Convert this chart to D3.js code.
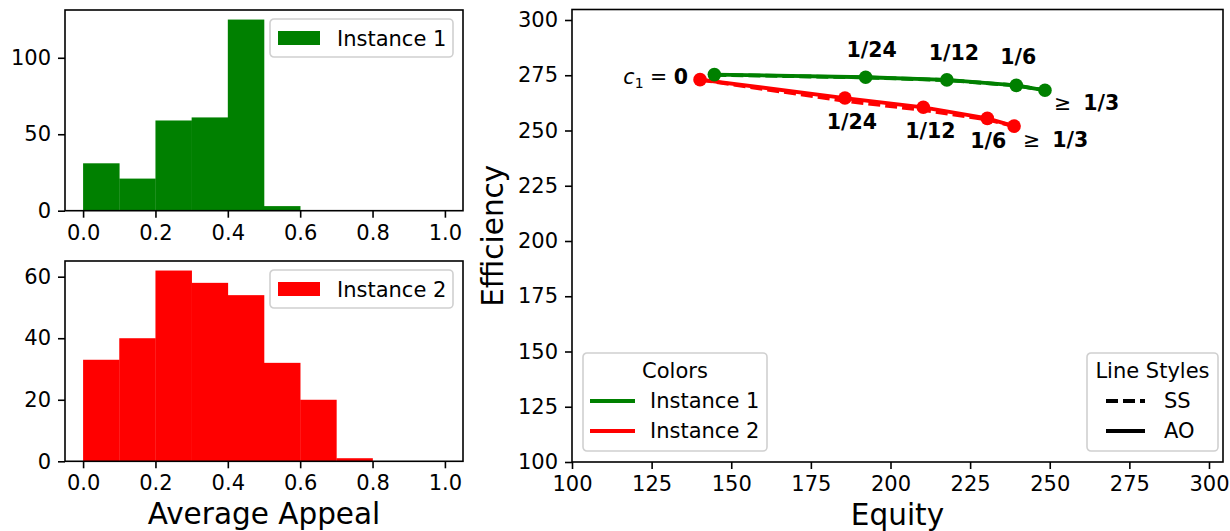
<!DOCTYPE html>
<html>
<head>
<meta charset="utf-8">
<script src="https://cdn.jsdelivr.net/npm/d3@7"></script>
<style>
  body { margin: 0; background: #fff; }
  svg text { font-family: "DejaVu Sans", sans-serif; }
  .tick text { font-size: 21px; fill: #000; }
  .tick line { stroke: #000; stroke-width: 1.6; }
</style>
</head>
<body>
<div id="chart"></div>
<script>
// histogram bins and counts
var binEdges = [0, 0.1, 0.2, 0.3, 0.4, 0.5, 0.6, 0.7, 0.8, 0.9, 1.0];
var instance1Counts = [31, 21, 59, 61, 125, 3, 0, 0, 0, 0];
var instance2Counts = [33, 40, 62, 58, 54, 32, 20, 1, 0, 0];
var histTicksX = [0, 0.2, 0.4, 0.6, 0.8, 1.0];

// equity / efficiency trade-off for each c1 value
var c1Labels = ["0", "1/24", "1/12", "1/6", "1/3"];
var equity1 = [144.7, 192.2, 217.7, 239.5, 248.5];
var effic1AO = [275.3, 274.1, 272.9, 270.4, 268.2];
var effic1SS = [275.2, 274.0, 272.8, 270.4, 268.2];
var equity2 = [140.2, 185.7, 210.3, 230.4, 238.8];
var effic2AO = [273.0, 264.7, 260.5, 255.5, 252.0];
var effic2SS = [273.0, 263.4, 259.3, 255.0, 252.0];
var scatterTicks = [100, 125, 150, 175, 200, 225, 250, 275, 300];

var green = "#008000", red = "#ff0000";

var svg = d3.select("#chart").append("svg")
    .attr("width", 1230)
    .attr("height", 531);

// ---------- histograms ----------
function histogram(box, counts, ymax, yticks, color, name, xlabel) {
  var x = d3.scaleLinear().domain([-0.05, 1.05]).range([box.left, box.right]);
  var y = d3.scaleLinear().domain([0, ymax]).range([box.bottom, box.top]);
  var g = svg.append("g");

  var bins = counts.map(function(c, i) { return {x0: binEdges[i], x1: binEdges[i + 1], n: c}; });
  g.selectAll("rect.bar").data(bins).enter().append("rect")
    .attr("class", "bar")
    .attr("x", function(d) { return x(d.x0); })
    .attr("width", function(d) { return x(d.x1) - x(d.x0) + 0.3; })
    .attr("y", function(d) { return y(d.n); })
    .attr("height", function(d) { return y(0) - y(d.n); })
    .attr("fill", color);

  g.append("g")
    .attr("transform", "translate(0," + box.bottom + ")")
    .call(d3.axisBottom(x).tickValues(histTicksX).tickFormat(d3.format(".1f")).tickSize(7).tickPadding(7).tickSizeOuter(0))
    .call(function(a) { a.select(".domain").remove(); });
  g.append("g")
    .attr("transform", "translate(" + box.left + ",0)")
    .call(d3.axisLeft(y).tickValues(yticks).tickSize(7).tickPadding(7).tickSizeOuter(0))
    .call(function(a) { a.select(".domain").remove(); });

  g.append("rect")
    .attr("x", box.left).attr("y", box.top)
    .attr("width", box.right - box.left).attr("height", box.bottom - box.top)
    .attr("fill", "none").attr("stroke", "#000").attr("stroke-width", 1.6);

  // legend
  var lg = g.append("g").attr("transform", "translate(" + (box.right - 193) + "," + (box.top + 9) + ")");
  lg.append("rect").attr("width", 183).attr("height", 38).attr("rx", 4)
    .attr("fill", "#fff").attr("fill-opacity", 0.8).attr("stroke", "#d0d0d0").attr("stroke-width", 1.6);
  lg.append("rect").attr("x", 8).attr("y", 12).attr("width", 42).attr("height", 14).attr("fill", color);
  lg.append("text").attr("x", 67).attr("y", 27).attr("font-size", 21).text(name);

  if (xlabel) {
    g.append("text")
      .attr("x", (box.left + box.right) / 2).attr("y", 524)
      .attr("text-anchor", "middle").attr("font-size", 29.5)
      .text(xlabel);
  }
}

histogram({left: 65, right: 463, top: 10, bottom: 210.7}, instance1Counts, 131.25, [0, 50, 100], green, "Instance 1", null);
histogram({left: 65, right: 463, top: 261, bottom: 461.3}, instance2Counts, 65.1, [0, 20, 40, 60], red, "Instance 2", "Average Appeal");

// ---------- equity vs efficiency ----------
var sb = {left: 572, right: 1223, top: 9.5, bottom: 462};
var x = d3.scaleLinear().domain([100, 304.4]).range([sb.left, sb.right]);
var y = d3.scaleLinear().domain([100, 304.75]).range([sb.bottom, sb.top]);
var plot = svg.append("g");

plot.append("g")
  .attr("transform", "translate(0," + sb.bottom + ")")
  .call(d3.axisBottom(x).tickValues(scatterTicks).tickSize(7).tickPadding(7).tickSizeOuter(0))
  .call(function(a) { a.select(".domain").remove(); });
plot.append("g")
  .attr("transform", "translate(" + sb.left + ",0)")
  .call(d3.axisLeft(y).tickValues(scatterTicks).tickSize(7).tickPadding(7).tickSizeOuter(0))
  .call(function(a) { a.select(".domain").remove(); });

var line = d3.line()
  .x(function(d) { return x(d[0]); })
  .y(function(d) { return y(d[1]); });

var series = [
  {color: red, eq: equity2, ss: effic2SS, ao: effic2AO},
  {color: green, eq: equity1, ss: effic1SS, ao: effic1AO}
];

series.forEach(function(s) {
  var ssPts = s.eq.map(function(v, i) { return [v, s.ss[i]]; });
  var aoPts = s.eq.map(function(v, i) { return [v, s.ao[i]]; });
  plot.append("path").datum(ssPts).attr("d", line)
    .attr("fill", "none").attr("stroke", s.color).attr("stroke-width", 3.8)
    .attr("stroke-dasharray", "12,5");
  plot.append("path").datum(aoPts).attr("d", line)
    .attr("fill", "none").attr("stroke", s.color).attr("stroke-width", 3.8);
  plot.selectAll(null).data(aoPts).enter().append("circle")
    .attr("cx", function(d) { return x(d[0]); })
    .attr("cy", function(d) { return y(d[1]); })
    .attr("r", 6.8)
    .attr("fill", s.color);
});

// c1 annotations
var offsGreen = [null, [6, -20], [7, -20], [2, -21], [9, 20]];
var offsRed = [[-12, 4], [7, 31], [7, 31], [1, 30], [9, 21]];

function annotate(eq, ef, offs) {
  offs.forEach(function(o, i) {
    if (!o) return;
    var px = x(eq[i]) + o[0], py = y(ef[i]) + o[1];
    var t = plot.append("text").attr("x", px).attr("y", py).attr("font-size", 20.5);
    if (i === 0) {
      t.attr("text-anchor", "end");
      t.append("tspan").attr("font-style", "italic").text("c");
      t.append("tspan").attr("font-size", 14).attr("dy", 4).text("1");
      t.append("tspan").attr("dy", -4).text(" = ");
      t.append("tspan").attr("font-weight", "bold").text(" " + c1Labels[i]);
    } else if (i === c1Labels.length - 1) {
      t.append("tspan").text("\u2265");
      t.append("tspan").attr("font-weight", "bold").attr("dx", 12).text(c1Labels[i]);
    } else {
      t.attr("text-anchor", "middle").attr("font-weight", "bold").text(c1Labels[i]);
    }
  });
}
annotate(equity1, effic1AO, offsGreen);
annotate(equity2, effic2AO, offsRed);

plot.append("rect")
  .attr("x", sb.left).attr("y", sb.top)
  .attr("width", sb.right - sb.left).attr("height", sb.bottom - sb.top)
  .attr("fill", "none").attr("stroke", "#000").attr("stroke-width", 1.6);

// legends
function lineLegend(lx, ly, w, title, items) {
  var lg = plot.append("g").attr("transform", "translate(" + lx + "," + ly + ")");
  lg.append("rect").attr("width", w).attr("height", 98).attr("rx", 4)
    .attr("fill", "#fff").attr("fill-opacity", 0.8).attr("stroke", "#d0d0d0").attr("stroke-width", 1.6);
  lg.append("text").attr("x", w / 2).attr("y", 25).attr("text-anchor", "middle").attr("font-size", 21).text(title);
  items.forEach(function(it, i) {
    var yy = 48 + i * 30;
    lg.append("line").attr("x1", it.x1).attr("x2", it.x2).attr("y1", yy).attr("y2", yy)
      .attr("stroke", it.color).attr("stroke-width", 4)
      .attr("stroke-dasharray", it.dash || null);
    lg.append("text").attr("x", it.tx).attr("y", yy + 7).attr("font-size", 21).text(it.name);
  });
}
lineLegend(583, 353, 184, "Colors", [
  {name: "Instance 1", color: green, x1: 7, x2: 52, tx: 67},
  {name: "Instance 2", color: red, x1: 7, x2: 52, tx: 67}
]);
lineLegend(1087, 353, 131, "Line Styles", [
  {name: "SS", color: "#000", x1: 19, x2: 58, tx: 77, dash: "12,5"},
  {name: "AO", color: "#000", x1: 19, x2: 58, tx: 77}
]);

// axis labels
plot.append("text")
  .attr("x", (sb.left + sb.right) / 2).attr("y", 525)
  .attr("text-anchor", "middle").attr("font-size", 29.5).text("Equity");
plot.append("text")
  .attr("transform", "translate(503," + ((sb.top + sb.bottom) / 2) + ") rotate(-90)")
  .attr("text-anchor", "middle").attr("font-size", 29.5).text("Efficiency");
</script>
</body>
</html>
